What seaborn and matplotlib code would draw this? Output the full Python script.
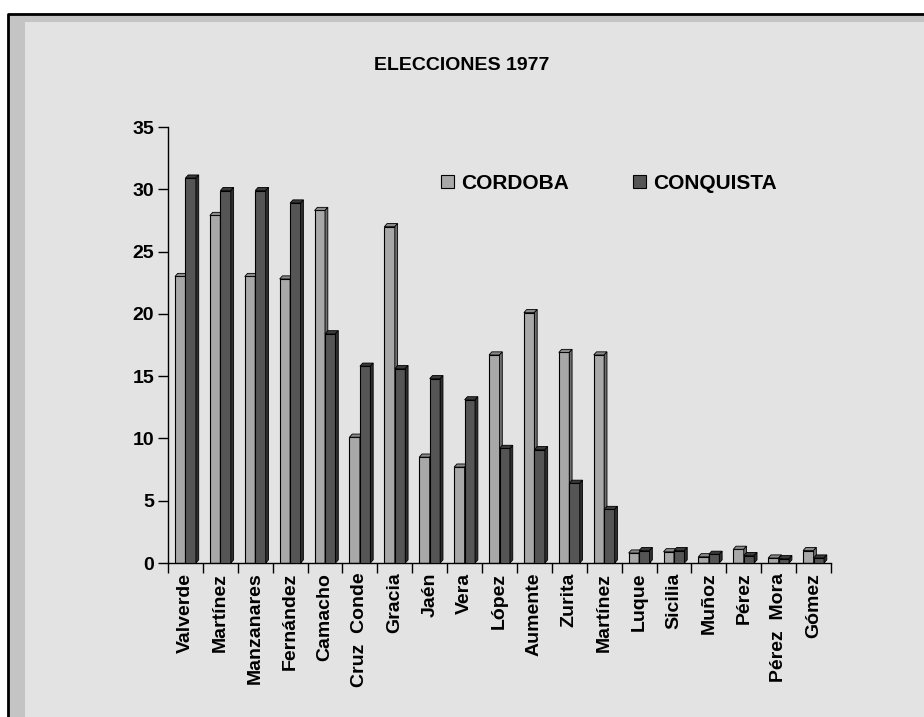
"""
ELECCIONES 1977 – CORDOBA vs CONQUISTA, barras agrupadas con efecto 3D.
"""

import numpy as np
import pandas as pd
import seaborn as sns
import matplotlib

matplotlib.use("Agg")
import matplotlib.pyplot as plt
from matplotlib.patches import Polygon, Rectangle

# datos
candidatos = ["Valverde", "Martínez", "Manzanares", "Fernández", "Camacho",
              "Cruz  Conde", "Gracia", "Jaén", "Vera", "López", "Aumente",
              "Zurita", "Martínez ", "Luque", "Sicilia", "Muñoz", "Pérez",
              "Pérez  Mora", "Gómez"]
cordoba = [23.0, 27.9, 23.0, 22.8, 28.3, 10.1, 27.0, 8.5, 7.7, 16.7, 20.1,
           16.9, 16.7, 0.8, 0.9, 0.5, 1.1, 0.4, 1.0]
conquista = [30.9, 29.9, 29.9, 28.9, 18.4, 15.8, 15.6, 14.8, 13.1, 9.2, 9.1,
             6.4, 4.3, 1.0, 1.0, 0.7, 0.6, 0.35, 0.4]
series = ["CORDOBA", "CONQUISTA"]

BG = "#e3e3e3"
COLORS = {"CORDOBA": "#a8a8a8", "CONQUISTA": "#555555"}
TOP = {"CORDOBA": "#8a8a8a", "CONQUISTA": "#3a3a3a"}
SIDE = {"CORDOBA": "#6e6e6e", "CONQUISTA": "#2e2e2e"}

df = pd.DataFrame({
    "candidato": candidatos * 2,
    "serie": [series[0]] * len(candidatos) + [series[1]] * len(candidatos),
    "votos": cordoba + conquista,
})

sns.set_style("white")
plt.rcParams["font.family"] = ["Liberation Sans", "DejaVu Sans"]
plt.rcParams["font.weight"] = "bold"
plt.rcParams["text.color"] = "black"
plt.rcParams["xtick.color"] = "black"
plt.rcParams["ytick.color"] = "black"

fig = plt.figure(figsize=(9.24, 7.17), dpi=100)
fig.patch.set_facecolor("white")

# marco con sombra (como el gráfico original)
W, H = 924, 717
fig.patches.append(Rectangle((8 / W, 0), 1, 1 - 14 / H, transform=fig.transFigure,
                             facecolor="#c4c4c4", edgecolor="none", zorder=-2))
fig.patches.append(Rectangle((25 / W, 0), 1, 1 - 22 / H, transform=fig.transFigure,
                             facecolor=BG, edgecolor="none", zorder=-1))
fig.lines.append(plt.Line2D([8 / W, 8 / W, 1], [0, 1 - 14 / H, 1 - 14 / H],
                            transform=fig.transFigure, color="black", lw=2,
                            zorder=-1))

ax = fig.add_axes([168 / W, 1 - 563 / H, 663 / W, 436 / H])
ax.set_zorder(5)
ax.patch.set_alpha(0)

sns.barplot(data=df, x="candidato", y="votos", hue="serie", order=candidatos,
            hue_order=series, palette=COLORS, width=0.6, gap=0,
            edgecolor="black", linewidth=0.8, saturation=1, ax=ax)

# efecto 3D: cara superior y lateral derivadas de cada barra
dx, dy = 0.08, 0.25
for k, (cont, s) in enumerate(zip(ax.containers, series)):
    for bar in cont:
        x0 = bar.get_x()
        w = bar.get_width()
        h = bar.get_height()
        bar.set_zorder(2 + k)
        top = Polygon([(x0, h), (x0 + dx, h + dy), (x0 + w + dx, h + dy), (x0 + w, h)],
                      closed=True, facecolor=TOP[s], edgecolor="black", lw=0.6,
                      zorder=2.1 + k)
        side = Polygon([(x0 + w, 0), (x0 + w + dx, dy), (x0 + w + dx, h + dy), (x0 + w, h)],
                       closed=True, facecolor=SIDE[s], edgecolor="black", lw=0.6,
                       zorder=2.1 + k)
        ax.add_patch(top)
        ax.add_patch(side)

ax.set_xlim(-0.5, len(candidatos) - 0.5)
ax.set_ylim(0, 35)
ax.set_yticks(np.arange(0, 36, 5))
ax.set_xlabel("")
ax.set_ylabel("")

for sp in ["top", "right"]:
    ax.spines[sp].set_visible(False)
for sp in ["left", "bottom"]:
    ax.spines[sp].set_color("black")
    ax.spines[sp].set_linewidth(1)

ax.set_xticks(np.arange(len(candidatos)))
ax.set_xticklabels([c.strip() for c in candidatos], rotation=90,
                   fontsize=14, fontweight="bold")
ax.set_xticks(np.arange(-0.5, len(candidatos)), minor=True)
ax.tick_params(axis="x", which="major", length=0, pad=7)
ax.tick_params(axis="x", which="minor", length=7, width=1, color="black",
               direction="out", bottom=True)
ax.tick_params(axis="y", length=7, width=1, color="black", direction="out",
               left=True, pad=3, labelsize=14)
for t in ax.get_yticklabels():
    t.set_fontweight("bold")

sns.move_legend(ax, "center left", bbox_to_anchor=(0.412, 0.87), ncol=2,
                frameon=False, title=None, fontsize=15, handlelength=0.6,
                handleheight=0.6, handletextpad=0.35, columnspacing=3.1,
                borderpad=0, borderaxespad=0)
for t in ax.get_legend().get_texts():
    t.set_fontweight("bold")
    t.set_color("black")

fig.text(462 / W, 1 - 66 / H, "ELECCIONES 1977", ha="center", va="center",
         fontsize=14, fontweight="bold", color="black")

fig.savefig("out.png", dpi=100, facecolor=fig.get_facecolor())
plt.close(fig)
